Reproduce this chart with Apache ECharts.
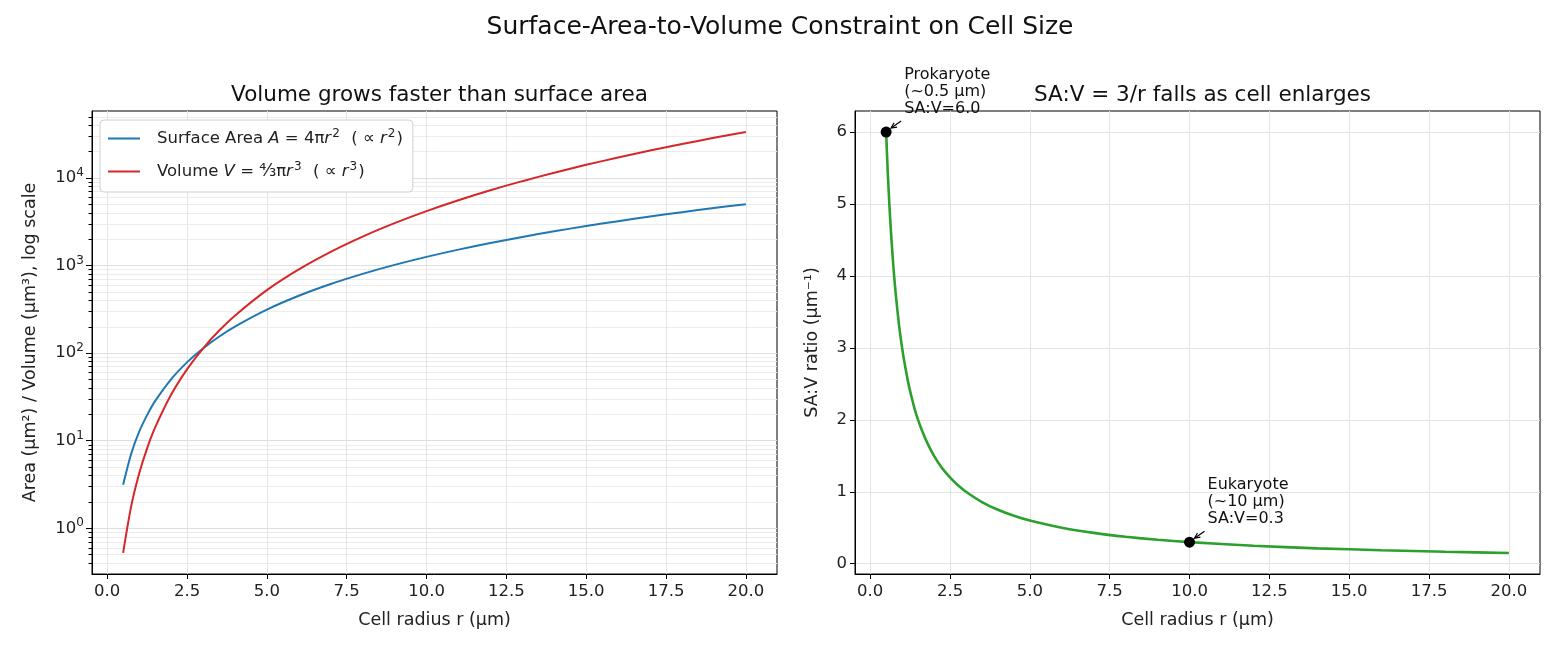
<!DOCTYPE html>
<html>
<head>
<meta charset="utf-8">
<script src="https://cdn.jsdelivr.net/npm/echarts@6/dist/echarts.min.js"></script>
<style>
  html, body { margin: 0; padding: 0; background: #fff; }
  #chart { width: 1560px; height: 650px; }
</style>
</head>
<body>
<div id="chart"></div>
<script>
// radius values (um) for the left panel
const radius = [0.5, 0.75, 1, 1.25, 1.5, 2, 2.5, 3, 3.5, 4, 5, 6, 7, 8, 9, 10, 11, 12, 13, 14, 15, 16, 17, 18, 19, 20];
const surfaceArea = [3.14, 7.07, 12.6, 19.6, 28.3, 50.3, 78.5, 113, 154, 201, 314, 452, 616, 804, 1018, 1257, 1521, 1810, 2124, 2463, 2827, 3217, 3632, 4072, 4536, 5027];
const volume = [0.524, 1.77, 4.19, 8.18, 14.1, 33.5, 65.4, 113, 180, 268, 524, 905, 1437, 2145, 3054, 4189, 5575, 7238, 9203, 11494, 14137, 17157, 20580, 24429, 28731, 33510];

// right panel
const ratioRadius = [0.5, 0.55, 0.6, 0.65, 0.7, 0.75, 0.8, 0.9, 1, 1.1, 1.2, 1.3, 1.4, 1.5, 1.65, 1.8, 2, 2.25, 2.5, 2.75, 3, 3.5, 4, 4.5, 5, 6, 7, 8, 9, 10, 12, 14, 16, 18, 20];
const saToV = [6, 5.45, 5, 4.62, 4.29, 4, 3.75, 3.33, 3, 2.73, 2.5, 2.31, 2.14, 2, 1.82, 1.67, 1.5, 1.33, 1.2, 1.09, 1, 0.857, 0.75, 0.667, 0.6, 0.5, 0.429, 0.375, 0.333, 0.3, 0.25, 0.214, 0.188, 0.167, 0.15];

const markers = [
  { name: "Prokaryote\n(~0.5 \u03bcm)\nSA:V=6.0", r: 0.5, ratio: 6.0 },
  { name: "Eukaryote\n(~10 \u03bcm)\nSA:V=0.3", r: 10, ratio: 0.3 }
];

// ticks
const xTicks = [0, 2.5, 5, 7.5, 10, 12.5, 15, 17.5, 20];
const logMajor = [1, 10, 100, 1000, 10000];
const logMinor = [0.4, 0.5, 0.6, 0.7, 0.8, 0.9, 2, 3, 4, 5, 6, 7, 8, 9, 20, 30, 40, 50, 60, 70, 80, 90,
  200, 300, 400, 500, 600, 700, 800, 900, 2000, 3000, 4000, 5000, 6000, 7000, 8000, 9000,
  20000, 30000, 40000, 50000];
const ratioTicks = [0, 1, 2, 3, 4, 5, 6];

const FONT = "DejaVu Sans";
const TICK = 16.5;
const LABEL = 17.5;

function zip(a, b) {
  return a.map((v, i) => [v, b[i]]);
}

const chart = echarts.init(document.getElementById("chart"));

const xAxisBase = {
  type: "value",
  min: -0.475,
  max: 20.975,
  name: "Cell radius r (\u03bcm)",
  nameLocation: "middle",
  nameGap: 37,
  nameTextStyle: { fontFamily: FONT, fontSize: LABEL, color: "#222" },
  axisLine: { show: true, onZero: false, lineStyle: { color: "#000", width: 1 } },
  axisTick: { show: true, length: 5, customValues: xTicks, lineStyle: { color: "#000" } },
  axisLabel: {
    customValues: xTicks,
    fontFamily: FONT, fontSize: TICK, color: "#222", margin: 9,
    formatter: v => v.toFixed(1)
  },
  splitLine: { show: true, lineStyle: { color: "#e4e4e4", width: 1 } }
};

const richBase = { fontFamily: FONT, fontSize: 16.5, color: "#222", lineHeight: 20 };

const option = {
  animation: false,
  backgroundColor: "#fff",
  title: [
    { text: "Surface-Area-to-Volume Constraint on Cell Size", left: "center", top: 10,
      textStyle: { fontFamily: FONT, fontSize: 25, fontWeight: "normal", color: "#111" } },
    { text: "Volume grows faster than surface area", left: 434.5, top: 79, textAlign: "center",
      textStyle: { fontFamily: FONT, fontSize: 21.5, fontWeight: "normal", color: "#111" } },
    { text: "SA:V = 3/r falls as cell enlarges", left: 1197.5, top: 79, textAlign: "center",
      textStyle: { fontFamily: FONT, fontSize: 21.5, fontWeight: "normal", color: "#111" } }
  ],
  grid: [
    { left: 92, right: 783, top: 111, bottom: 76, show: true, borderColor: "#000", borderWidth: 1 },
    { left: 855, right: 20, top: 111, bottom: 76, show: true, borderColor: "#000", borderWidth: 1 }
  ],
  legend: {
    data: ["Surface Area", "Volume"],
    orient: "vertical",
    left: 100,
    top: 120,
    backgroundColor: "#fff",
    borderColor: "#d0d0d0",
    borderWidth: 1,
    borderRadius: 4,
    padding: [8, 10, 10, 8],
    itemGap: 12,
    itemWidth: 32,
    itemHeight: 2,
    icon: "rect",
    formatter: name => name === "Surface Area"
      ? "{n|Surface Area }{i|A}{n| = 4\u03c0}{i|r}{s|2}{n|  ( \u221d }{i|r}{s|2}{n|)}"
      : "{n|Volume }{i|V}{n| = }{f|\u2074\u2044\u2083}{n|\u03c0}{i|r}{s|3}{n|  ( \u221d }{i|r}{s|3}{n|)}",
    textStyle: {
      padding: [0, 0, 0, 12],
      rich: {
        n: richBase,
        i: Object.assign({}, richBase, { fontStyle: "italic" }),
        s: { fontFamily: FONT, fontSize: 12, color: "#222", lineHeight: 20, padding: [0, 1, 9, 1] },
        f: Object.assign({}, richBase, { fontSize: 17.5 })
      }
    }
  },
  xAxis: [
    Object.assign({}, xAxisBase, { gridIndex: 0 }),
    Object.assign({}, xAxisBase, { gridIndex: 1 })
  ],
  yAxis: [
    {
      gridIndex: 0,
      type: "log",
      min: 0.301,
      max: 58210,
      name: "Area (\u03bcm\u00b2) / Volume (\u03bcm\u00b3), log scale",
      nameLocation: "middle",
      nameGap: 53,
      nameTextStyle: { fontFamily: FONT, fontSize: LABEL, color: "#222" },
      axisLine: { show: true, onZero: false, lineStyle: { color: "#000" } },
      axisTick: { show: true, length: 6, customValues: logMajor, lineStyle: { color: "#000" } },
      axisLabel: {
        customValues: logMajor,
        fontFamily: FONT, fontSize: TICK, color: "#222", margin: 8,
        formatter: v => "{b|10}{s|" + Math.round(Math.log10(v)) + "}",
        rich: {
          b: { fontFamily: FONT, fontSize: TICK, color: "#222" },
          s: { fontFamily: FONT, fontSize: 12, color: "#222", padding: [0, 0, 10, 0] }
        }
      },
      splitLine: { show: true, lineStyle: { color: "#dedede", width: 1 } }
    },
    {
      gridIndex: 0,
      type: "log",
      min: 0.301,
      max: 58210,
      position: "left",
      offset: 0,
      axisLine: { show: false, onZero: false },
      axisTick: { show: true, length: 3.5, customValues: logMinor, lineStyle: { color: "#000" } },
      axisLabel: { show: false, customValues: logMinor },
      splitLine: { show: true, lineStyle: { color: "#ececec", width: 1 } }
    },
    {
      gridIndex: 1,
      type: "value",
      min: -0.1425,
      max: 6.2925,
      name: "SA:V ratio (\u03bcm\u207b\u00b9)",
      nameLocation: "middle",
      nameGap: 34,
      nameTextStyle: { fontFamily: FONT, fontSize: LABEL, color: "#222" },
      axisLine: { show: true, onZero: false, lineStyle: { color: "#000" } },
      axisTick: { show: true, length: 5, customValues: ratioTicks, lineStyle: { color: "#000" } },
      axisLabel: { customValues: ratioTicks, fontFamily: FONT, fontSize: TICK, color: "#222", margin: 8 },
      splitLine: { show: true, lineStyle: { color: "#e4e4e4", width: 1 } }
    }
  ],
  series: [
    {
      name: "Surface Area",
      type: "line",
      xAxisIndex: 0, yAxisIndex: 0,
      data: zip(radius, surfaceArea),
      smooth: 0.3,
      showSymbol: false,
      color: "#1f77b4",
      lineStyle: { width: 2, color: "#1f77b4" }
    },
    {
      name: "Volume",
      type: "line",
      xAxisIndex: 0, yAxisIndex: 0,
      data: zip(radius, volume),
      smooth: 0.3,
      showSymbol: false,
      color: "#d62728",
      lineStyle: { width: 2, color: "#d62728" }
    },
    {
      name: "SA:V",
      type: "line",
      xAxisIndex: 1, yAxisIndex: 2,
      data: zip(ratioRadius, saToV),
      smooth: 0.2,
      showSymbol: false,
      lineStyle: { width: 2.6, color: "#2ca02c" },
      z: 3
    },
    {
      name: "markers",
      type: "scatter",
      xAxisIndex: 1, yAxisIndex: 2,
      data: markers.map(m => [m.r, m.ratio]),
      symbolSize: 11,
      itemStyle: { color: "#000", opacity: 1 },
      z: 5
    }
  ]
};

chart.setOption(option);

// annotations with arrows placed through the chart's own scales
const graphics = [];
markers.forEach(m => {
  const p = chart.convertToPixel({ seriesIndex: 3 }, [m.r, m.ratio]);
  graphics.push({
    type: "text",
    x: p[0] + 18,
    y: p[1] - 15,
    style: {
      text: m.name,
      fontFamily: FONT,
      fontSize: 16,
      lineHeight: 17,
      fill: "#111",
      textAlign: "left",
      textVerticalAlign: "bottom"
    },
    z: 10
  });
  const tip = [p[0] + 5, p[1] - 4];
  const tail = [p[0] + 15, p[1] - 11];
  const ang = Math.atan2(tail[1] - tip[1], tail[0] - tip[0]);
  const h = 6;
  graphics.push({
    type: "polyline",
    shape: { points: [tail, tip] },
    style: { stroke: "#000", lineWidth: 1.2, fill: null },
    z: 10
  });
  graphics.push({
    type: "polyline",
    shape: { points: [
      [tip[0] + h * Math.cos(ang + 0.45), tip[1] + h * Math.sin(ang + 0.45)],
      tip,
      [tip[0] + h * Math.cos(ang - 0.45), tip[1] + h * Math.sin(ang - 0.45)]
    ] },
    style: { stroke: "#000", lineWidth: 1.2, fill: null },
    z: 10
  });
});
chart.setOption({ graphic: graphics });
</script>
</body>
</html>
